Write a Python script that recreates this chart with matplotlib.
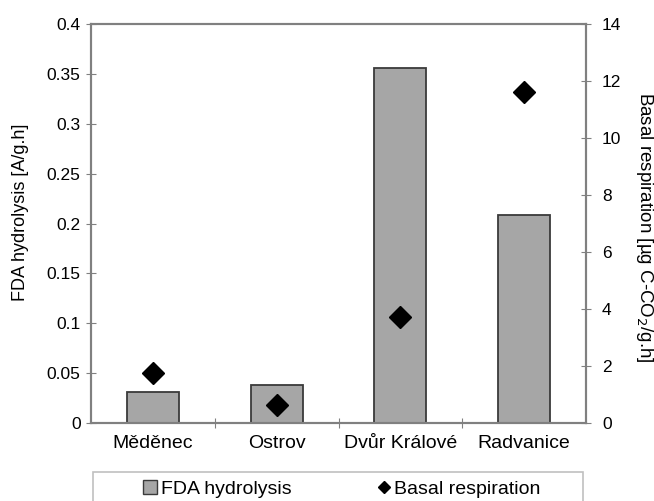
import matplotlib
matplotlib.use("Agg")
import matplotlib.pyplot as plt
from matplotlib.lines import Line2D
from matplotlib.patches import Patch, Rectangle

sites = ["Měděnec", "Ostrov", "Dvůr Králové", "Radvanice"]
fda = [0.031, 0.038, 0.356, 0.209]          # A/g.h
resp = [1.75, 0.63, 3.73, 11.62]            # ug C-CO2/g.h

plt.rcParams["font.family"] = ["Liberation Sans", "DejaVu Sans"]
SPINE = "#808080"

fig = plt.figure(figsize=(6.54, 5.01), dpi=100)
ax = fig.add_axes([91/654, 78/501, 495/654, 399/501])
ax2 = ax.twinx()

x = list(range(len(sites)))
ax.bar(x, fda, width=0.42, color="#a6a6a6", edgecolor="#3a3a3a", lw=1.3, zorder=2)
ax2.plot(x, resp, ls="none", marker="D", ms=11.5, color="black", zorder=3)

ax.set_xlim(-0.5, 3.5)
ax.set_ylim(0, 0.4)
ax.set_yticks([0, 0.05, 0.1, 0.15, 0.2, 0.25, 0.3, 0.35, 0.4])
ax.set_yticklabels(["0", "0.05", "0.1", "0.15", "0.2", "0.25", "0.3", "0.35", "0.4"])
ax2.set_ylim(0, 14)
ax2.set_yticks(range(0, 15, 2))

ax.set_xticks([0.5, 1.5, 2.5], minor=False)
ax.set_xticklabels([])
ax.set_xticks(x, minor=True)
ax.set_xticklabels(sites, minor=True, fontsize=14)
ax.tick_params(axis="x", which="minor", length=0, pad=9)
ax.tick_params(axis="x", which="major", direction="inout", length=7, color=SPINE)
ax.tick_params(axis="y", direction="inout", length=7, color=SPINE, labelsize=12.5, pad=4)
ax2.tick_params(axis="y", direction="inout", length=7, color=SPINE, labelsize=12.5, pad=8)

for a in (ax, ax2):
    for s in a.spines.values():
        s.set_color(SPINE)
        s.set_linewidth(1.5)

ax.set_ylabel("FDA hydrolysis [A/g.h]", fontsize=13, va="center")
ax.yaxis.set_label_coords(-0.143, 0.529)
ax2.set_ylabel("Basal respiration [µg C-CO$_2$/g.h]", fontsize=13.5, rotation=-90, va="center")
ax2.yaxis.set_label_coords(1.119, 0.491)

# legend box, cut by the bottom edge like the original
fig.patches.append(Rectangle((93/654, -0.05), 490/654, 0.05 + 29/501,
                             transform=fig.transFigure, fill=False,
                             edgecolor="#c0c0c0", lw=1.2))
handles = [Patch(facecolor="#a6a6a6", edgecolor="#3a3a3a", lw=1.0),
           Line2D([], [], ls="none", marker="D", ms=6, color="black")]
fig.legend(handles, ["FDA hydrolysis", "Basal respiration"], ncol=2,
           loc="center", bbox_to_anchor=(342/654, 1 - 489/501),
           frameon=False, fontsize=14, handlelength=0.7, handletextpad=0.2,
           columnspacing=4.4, borderpad=0, borderaxespad=0)

fig.savefig("out.png", dpi=100)
